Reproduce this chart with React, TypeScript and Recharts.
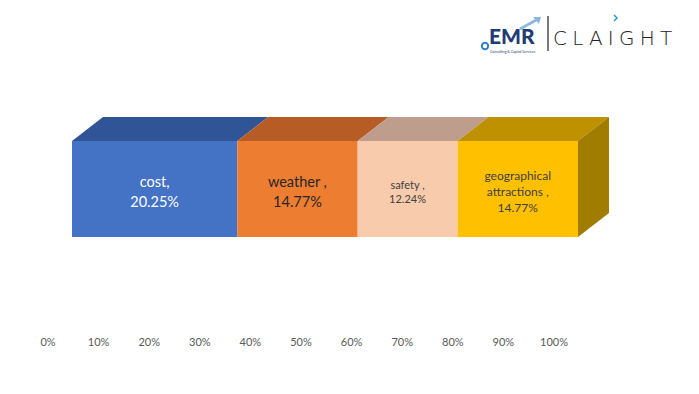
import { BarChart, Bar, XAxis, YAxis, LabelList } from "recharts";

const categories = ["cost", "weather", "safety", "geographical attractions"];
const shares = [20.25, 14.77, 12.24, 14.77];
const labelNames = [["cost,"], ["weather ,"], ["safety ,"], ["geographical", "attractions ,"]];
const tickValues = [0, 0.1, 0.2, 0.3, 0.4, 0.5, 0.6, 0.7, 0.8, 0.9, 1];
const tickLabels = ["0%", "10%", "20%", "30%", "40%", "50%", "60%", "70%", "80%", "90%", "100%"];

const frontColors = ["#4472C4", "#ED7D31", "#F8CBAD", "#FFC000"];
const topColors = ["#2F5597", "#B85C25", "#BF9D8C", "#BF9000"];
const sideColor = "#A07C00";
const textColors = ["#FFFFFF", "#262626", "#404040", "#404040"];
const fontSizes = [14.5, 14.5, 11, 12];
const lineHeights = [20, 20, 14, 16];

const DX = 31;
const DY = 24;

const row: Record<string, string | number> = { name: "share" };
categories.forEach((c, i) => {
  row[c] = shares[i];
});
const data = [row];

function make3D(i: number) {
  const isLast = i === categories.length - 1;
  return (p: any) => {
    const { x, y, width, height } = p;
    const top = `${x},${y} ${x + DX},${y - DY} ${x + width + DX},${y - DY} ${x + width},${y}`;
    const side = `${x + width},${y} ${x + width + DX},${y - DY} ${x + width + DX},${y + height - DY} ${x + width},${y + height}`;
    return (
      <g>
        <polygon points={top} fill={topColors[i]} />
        {isLast && <polygon points={side} fill={sideColor} />}
        <rect x={x} y={y} width={width} height={height} fill={frontColors[i]} />
      </g>
    );
  };
}

function makeLabel(i: number) {
  return (p: any) => {
    const { x, y, width, height } = p;
    const lines = [...labelNames[i], `${shares[i].toFixed(2)}%`];
    const lh = lineHeights[i];
    const cx = x + width / 2;
    const cy = y + height / 2 + 2;
    const start = cy - ((lines.length - 1) * lh) / 2;
    return (
      <text
        textAnchor="middle"
        fill={textColors[i]}
        fontSize={fontSizes[i]}
        fontFamily="Lato, 'Open Sans', sans-serif"
      >
        {lines.map((l, k) => (
          <tspan key={k} x={cx} y={start + k * lh} dominantBaseline="central">
            {l}
          </tspan>
        ))}
      </text>
    );
  };
}

const AxisTick = (p: any) => {
  const idx = tickValues.indexOf(p.payload.value);
  return (
    <text
      x={p.x - 24}
      y={341}
      textAnchor="middle"
      dominantBaseline="central"
      fill="#595959"
      fontSize={11}
      fontFamily="Lato, 'Open Sans', sans-serif"
    >
      {tickLabels[idx]}
    </text>
  );
};

function Logo() {
  return (
    <svg width={699} height={70} style={{ position: "absolute", left: 0, top: 0 }}>
      <circle cx={485} cy={46} r={3.2} fill="none" stroke="#2E86C8" strokeWidth={2} />
      <path d="M520 29 L538 19" stroke="#8FB8E0" strokeWidth={3} />
      <path d="M533 17 L541 17 L539 24 Z" fill="#8FB8E0" />
      <text x={489} y={44} fontFamily="Lato, sans-serif" fontWeight={900} fontSize={21} fill="#1F3C74">
        EMR
      </text>
      <text x={490} y={53} fontFamily="Lato, sans-serif" fontSize={3.5} fill="#1F3C74">
        Consulting &amp; Capital Services
      </text>
      <line x1={548} y1={16} x2={548} y2={51} stroke="#222" strokeWidth={1.2} />
      <path d="M614 15 L617 18 L614 21" fill="none" stroke="#2E9BD8" strokeWidth={1.5} />
      <text
        x={553}
        y={45}
        fontFamily="'DejaVu Sans', sans-serif"
        fontWeight={300}
        fontSize={20}
        letterSpacing={5.2}
        fill="#222"
      >
        CLAIGHT
      </text>
    </svg>
  );
}

export default function App() {
  return (
    <div style={{ position: "absolute", left: 0, top: 0, width: 699, height: 394, background: "#fff" }}>
      <BarChart
        width={699}
        height={394}
        data={data}
        layout="vertical"
        stackOffset="expand"
        barCategoryGap={0}
        margin={{ top: 141, right: 121, left: 72, bottom: 127 }}
      >
        <XAxis
          type="number"
          domain={[0, 1]}
          ticks={tickValues}
          axisLine={false}
          tickLine={false}
          height={30}
          tick={AxisTick}
        />
        <YAxis type="category" dataKey="name" hide />
        {categories.map((c, i) => (
          <Bar key={c} dataKey={c} stackId="a" isAnimationActive={false} shape={make3D(i)}>
            <LabelList dataKey={c} content={makeLabel(i)} />
          </Bar>
        ))}
      </BarChart>
      <Logo />
    </div>
  );
}
